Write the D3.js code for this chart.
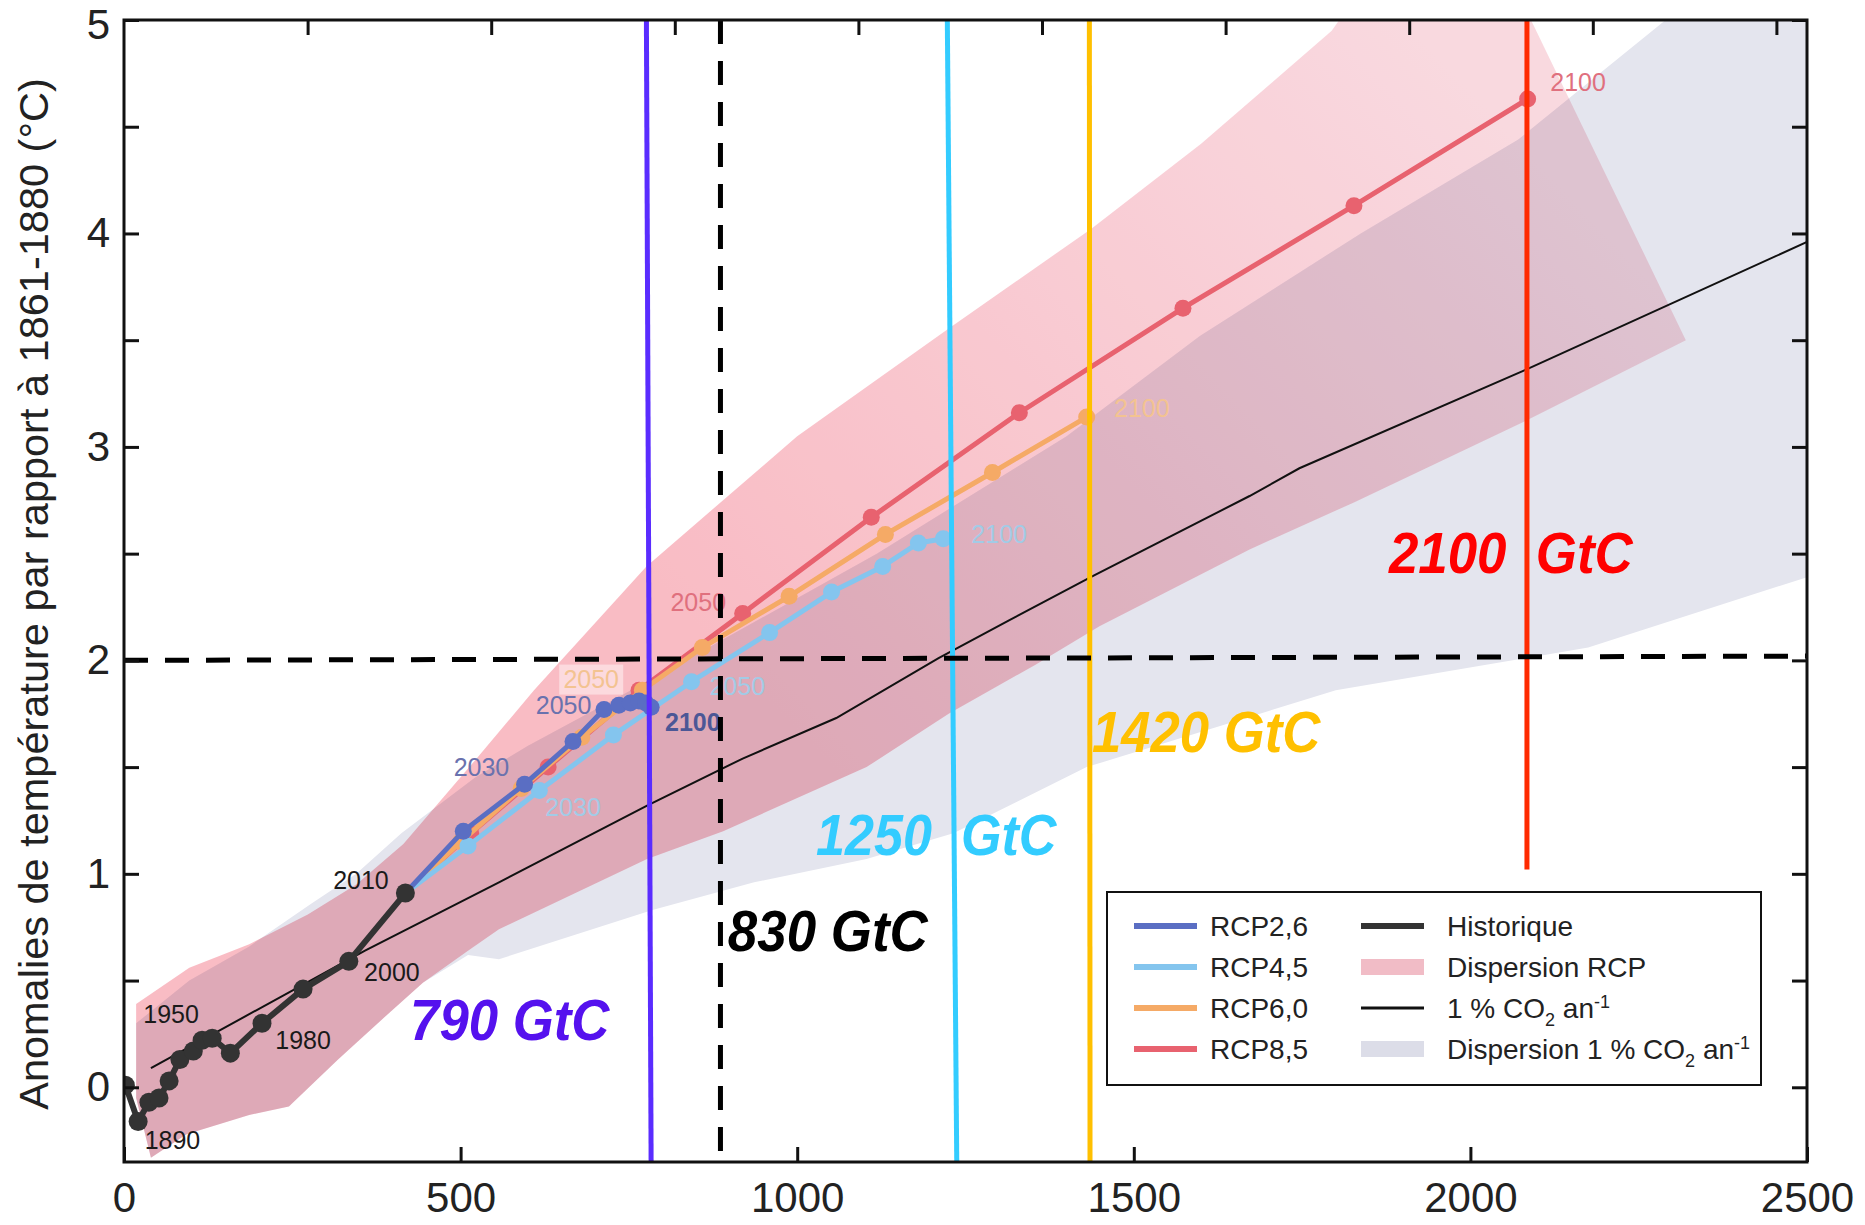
<!DOCTYPE html>
<html>
<head>
<meta charset="utf-8">
<script src="https://cdnjs.cloudflare.com/ajax/libs/d3/7.8.5/d3.min.js"></script>
<style>
  body { margin: 0; background: #fff; }
  svg text { font-family: "Liberation Sans", Arial, sans-serif; }
</style>
</head>
<body>
<div id="chart"></div>
<script>
// ---- values (x: cumulative GtC, y: °C) ----
const yTicks = [0, 0.5, 1, 1.5, 2, 2.5, 3, 3.5, 4, 4.5, 5];
const xTicks = [0, 500, 1000, 1500, 2000, 2500];
const topTicksGtCO2 = [1000, 2000, 3000, 4000, 5000, 6000, 7000, 8000, 9000];
const gtcPerGtco2 = 12 / 44;

const historique = [[2, 0.01], [21, -0.16], [37, -0.07], [52, -0.05], [67, 0.03], [83, 0.13], [103, 0.17],
    [116, 0.22], [131, 0.23], [158, 0.16], [205, 0.30], [266, 0.46], [334, 0.59], [418, 0.91]];
const rcp26 = [[418, 0.91], [504, 1.20], [595, 1.42], [667, 1.62], [713, 1.77], [735, 1.79], [752, 1.80],
    [765, 1.81], [775, 1.80], [783, 1.78]];
const rcp45 = [[418, 0.91], [511, 1.13], [617, 1.39], [727, 1.65], [843, 1.90], [959, 2.13], [1051, 2.32],
    [1127, 2.44], [1180, 2.55], [1217, 2.57]];
const rcp60 = [[418, 0.91], [500, 1.15], [590, 1.40], [680, 1.64], [770, 1.86], [859, 2.06], [988, 2.30],
    [1131, 2.59], [1290, 2.88], [1430, 3.14]];
const rcp85 = [[418, 0.91], [515, 1.19], [630, 1.50], [765, 1.86], [919, 2.22], [1110, 2.67], [1330, 3.16],
    [1573, 3.65], [1827, 4.13], [2085, 4.63]];
const onePct = [[40, 0.09], [358, 0.64], [557, 0.96], [777, 1.32], [919, 1.54], [1058, 1.73], [1210, 2.01],
    [1316, 2.19], [1436, 2.39], [1672, 2.77], [1746, 2.90], [2081, 3.36], [2500, 3.96]];

// dispersion bands : upper edge and lower edge, both left -> right
const rcpUpper = [[18, 0.39], [97, 0.56], [186, 0.67], [273, 0.81], [345, 0.95], [415, 1.14], [521, 1.53],
    [609, 1.86], [776, 2.44], [1000, 3.05], [1223, 3.55], [1436, 4.02], [1600, 4.42], [1794, 4.95],
    [1850, 5.2], [2060, 5.2], [2090, 5.0]];
const rcpLower = [[18, -0.05], [40, -0.33], [93, -0.22], [186, -0.13], [245, -0.09], [318, 0.13], [391, 0.34],
    [444, 0.49], [511, 0.64], [557, 0.74], [777, 1.07], [890, 1.20], [1103, 1.50], [1225, 1.75], [1354, 1.98],
    [1449, 2.16], [1672, 2.52], [1827, 2.74], [2081, 3.12], [2320, 3.50]];
const pctUpper = [[18, 0.30], [97, 0.50], [186, 0.66], [278, 0.86], [345, 1.00], [412, 1.19], [521, 1.45],
    [600, 1.60], [806, 1.95], [1118, 2.50], [1400, 3.05], [1598, 3.52], [1837, 4.00], [2071, 4.44],
    [2290, 5.0], [2340, 5.15], [2500, 5.15]];
const pctLower = [[18, -0.05], [40, -0.33], [93, -0.22], [186, -0.13], [245, -0.09], [318, 0.13], [391, 0.34],
    [444, 0.49], [511, 0.62], [557, 0.60], [785, 0.83], [936, 0.96], [1103, 1.07], [1232, 1.19], [1430, 1.50],
    [1800, 1.86], [2175, 2.06], [2500, 2.39]];

// budget lines (GtC at top and bottom of each line, slight tilt of the scan)
const budgetLabels = ["790 GtC", "830 GtC", "1250  GtC", "1420 GtC", "2100  GtC"];
const budgetTopGtC = [776, 886, 1223, 1434, 2084];
const budgetBottomGtC = [783, 886, 1237, 1435, 2084];
const budgetBottomTemp = [-0.35, -0.35, -0.35, -0.35, 1.02];
const thresholdTemp = [2.0, 2.02];   // left end, right end

const yearLabels = [
    {text: "1890", s: "hist", gt: 72, t: -0.25},
    {text: "1950", s: "hist", gt: 70, t: 0.34},
    {text: "1980", s: "hist", gt: 266, t: 0.22},
    {text: "2000", s: "hist", gt: 398, t: 0.54},
    {text: "2010", s: "hist", gt: 352, t: 0.97},
    {text: "2030", s: "rcp26", gt: 531, t: 1.50},
    {text: "2050", s: "rcp26", gt: 653, t: 1.79},
    {text: "2100", s: "rcp26end", gt: 845, t: 1.71},
    {text: "2050", s: "rcp60", gt: 694, t: 1.91, box: true},
    {text: "2030", s: "rcp45", gt: 667, t: 1.31},
    {text: "2050", s: "rcp45", gt: 911, t: 1.88},
    {text: "2100", s: "rcp45", gt: 1300, t: 2.59},
    {text: "2050", s: "rcp85", gt: 853, t: 2.27},
    {text: "2100", s: "rcp60", gt: 1512, t: 3.18},
    {text: "2100", s: "rcp85", gt: 2160, t: 4.71}
];

const legendItems = [
    {key: "rcp26", label: "RCP2,6"}, {key: "rcp45", label: "RCP4,5"},
    {key: "rcp60", label: "RCP6,0"}, {key: "rcp85", label: "RCP8,5"},
    {key: "hist", label: "Historique"}, {key: "bandRcp", label: "Dispersion RCP"},
    {key: "onePct", label: "1 % CO|2| an|-1"}, {key: "bandPct", label: "Dispersion 1 % CO|2| an|-1"}
];

// ---- styles ----
const colors = {
    rcp26: "#5a6ec3", rcp45: "#84c5ee", rcp60: "#f5aa66", rcp85: "#e8626f", hist: "#333333",
    onePct: "#111111", bandPct: "#e4e5ee"
};
const labelColors = {hist: "#1a1a1a", rcp26: "#6a72ae", rcp26end: "#4c5796", rcp45: "#a2cbe6",
    rcp60: "#f3c391", rcp85: "#e0707e"};
const budgetColors = ["#5a2cff", "#000000", "#33ccff", "#ffc000", "#ff2a00"];
const budgetTextColors = ["#5511ee", "#000000", "#33ccff", "#ffc000", "#ff0000"];
// label anchors (left end, baseline) in data units, and text widths in GtC
const budgetTextGt = [425, 897, 1028, 1438, 1879];
const budgetTextTemp = [0.22, 0.64, 1.09, 1.57, 2.41];
const budgetTextWidth = [296, 297, 357, 339, 362];

var margin = {top: 20, left: 124, right: 58, bottom: 63},
    width = 1865 - margin.left - margin.right,
    height = 1225 - margin.top - margin.bottom;

var svg = d3.select("#chart")
    .append("svg")
    .attr("width", width + margin.left + margin.right)
    .attr("height", height + margin.top + margin.bottom)
    .append("g")
    .attr("transform", "translate(" + margin.left + "," + margin.top + ")");

var x = d3.scaleLinear().domain([0, 2500]).range([0, width]);
var y = d3.scaleLinear().domain([-0.35, 5]).range([height, 0]);

var line = d3.line().x(d => x(d[0])).y(d => y(d[1]));

var defs = svg.append("defs");
defs.append("clipPath").attr("id", "plot-clip")
    .append("rect").attr("width", width).attr("height", height);

// pink plume gets lighter towards its upper end
var grad = defs.append("linearGradient")
    .attr("id", "rcp-grad")
    .attr("gradientUnits", "userSpaceOnUse")
    .attr("x1", x(900)).attr("y1", y(2))
    .attr("x2", x(1900)).attr("y2", y(5));
grad.append("stop").attr("offset", "0%").attr("stop-color", "rgb(248,176,186)");
grad.append("stop").attr("offset", "100%").attr("stop-color", "rgb(248,210,218)");

var plot = svg.append("g").attr("clip-path", "url(#plot-clip)");

// bands
plot.append("path")
    .attr("d", line(pctUpper.concat(pctLower.slice().reverse())) + "Z")
    .attr("fill", colors.bandPct);
plot.append("path")
    .attr("d", line(rcpUpper.concat(rcpLower.slice().reverse())) + "Z")
    .attr("fill", "url(#rcp-grad)")
    .attr("opacity", 0.85)
    .style("mix-blend-mode", "multiply");

// 1 % CO2 per year run
plot.append("path")
    .attr("d", line(onePct))
    .attr("fill", "none")
    .attr("stroke", colors.onePct)
    .attr("stroke-width", 2);

// scenarios, RCP2.6 on top
var scenarios = [["rcp85", rcp85], ["rcp60", rcp60], ["rcp45", rcp45], ["rcp26", rcp26]];
scenarios.forEach(([key, pts]) => {
    var g = plot.append("g").attr("class", key);
    g.append("path")
        .attr("d", line(pts))
        .attr("fill", "none")
        .attr("stroke", colors[key])
        .attr("stroke-width", 5)
        .attr("stroke-linejoin", "round");
    g.selectAll("circle")
        .data(pts.slice(1))
        .enter().append("circle")
        .attr("cx", d => x(d[0]))
        .attr("cy", d => y(d[1]))
        .attr("r", 8.5)
        .attr("fill", colors[key]);
});

// historical record
var hist = plot.append("g").attr("class", "hist");
hist.append("path")
    .attr("d", line(historique))
    .attr("fill", "none")
    .attr("stroke", colors.hist)
    .attr("stroke-width", 6)
    .attr("stroke-linejoin", "round");
hist.selectAll("circle")
    .data(historique)
    .enter().append("circle")
    .attr("cx", d => x(d[0]))
    .attr("cy", d => y(d[1]))
    .attr("r", 9.5)
    .attr("fill", colors.hist);

// year labels along the curves
var yl = svg.append("g").attr("class", "year-labels");
yearLabels.forEach(d => {
    if (d.box) {
        yl.append("rect")
            .attr("x", x(d.gt) - 32).attr("y", y(d.t) - 15)
            .attr("width", 64).attr("height", 30)
            .attr("fill", "#fff").attr("opacity", 0.45);
    }
    yl.append("text")
        .attr("x", x(d.gt))
        .attr("y", y(d.t))
        .attr("dy", "0.35em")
        .attr("text-anchor", "middle")
        .attr("font-size", 25)
        .attr("font-weight", d.s === "rcp26end" ? "bold" : null)
        .attr("fill", labelColors[d.s])
        .text(d.text);
});

// carbon budget lines
budgetLabels.forEach((lab, i) => {
    svg.append("line")
        .attr("x1", x(budgetTopGtC[i])).attr("y1", y(5))
        .attr("x2", x(budgetBottomGtC[i])).attr("y2", y(budgetBottomTemp[i]))
        .attr("stroke", budgetColors[i])
        .attr("stroke-width", 5)
        .attr("stroke-dasharray", i === 1 ? "24,17" : null);
});

// 2 °C threshold
svg.append("line")
    .attr("x1", x(0)).attr("y1", y(thresholdTemp[0]))
    .attr("x2", x(2500)).attr("y2", y(thresholdTemp[1]))
    .attr("stroke", "#000")
    .attr("stroke-width", 5)
    .attr("stroke-dasharray", "24,17");

budgetLabels.forEach((lab, i) => {
    svg.append("text")
        .attr("x", x(budgetTextGt[i]))
        .attr("y", y(budgetTextTemp[i]))
        .attr("font-size", 58)
        .attr("font-weight", "bold")
        .attr("font-style", "italic")
        .attr("fill", budgetTextColors[i])
        .attr("textLength", x(budgetTextWidth[i]) - x(0))
        .attr("lengthAdjust", "spacingAndGlyphs")
        .style("white-space", "pre")
        .text(lab);
});

// legend
var lg = svg.append("g")
    .attr("transform", "translate(" + (1107 - margin.left) + "," + (892 - margin.top) + ")");
lg.append("rect")
    .attr("width", 654).attr("height", 193)
    .attr("fill", "#fff")
    .attr("stroke", "#111")
    .attr("stroke-width", 2);

function richText(sel, label) {
    // "a|2|b|-1" -> a, subscript 2, b, superscript -1
    var parts = label.split("|");
    parts.forEach((p, k) => {
        var t = sel.append("tspan").text(p);
        if (k === 1) t.attr("font-size", 18).attr("dy", 8);
        if (k === 2) t.attr("dy", -8);
        if (k === 3) t.attr("font-size", 18).attr("dy", -10);
    });
}

legendItems.forEach((d, i) => {
    var col = Math.floor(i / 4), row = i % 4;
    var sx = col === 0 ? 27 : 254, tx = col === 0 ? 103 : 340;
    var cy = 34 + row * 41;
    if (d.key === "bandRcp" || d.key === "bandPct") {
        lg.append("rect")
            .attr("x", sx).attr("y", cy - 8)
            .attr("width", 63).attr("height", 16)
            .attr("fill", d.key === "bandRcp" ? "#f1bcc6" : "#dcdde8");
    } else {
        lg.append("line")
            .attr("x1", sx).attr("x2", sx + 63)
            .attr("y1", cy).attr("y2", cy)
            .attr("stroke", colors[d.key])
            .attr("stroke-width", d.key === "onePct" ? 3 : 6);
    }
    var t = lg.append("text")
        .attr("x", tx).attr("y", cy)
        .attr("dy", "0.35em")
        .attr("font-size", 28)
        .attr("fill", "#222");
    richText(t, d.label);
});

// axes (ticks point inwards)
function styleAxis(g) {
    g.select(".domain").remove();
    g.selectAll(".tick line").attr("stroke", "#111").attr("stroke-width", 3);
    g.selectAll(".tick text")
        .attr("font-size", 42)
        .attr("fill", "#222")
        .style("font-family", "'Liberation Sans', Arial, sans-serif");
}

svg.append("g")
    .call(d3.axisLeft(y).tickValues(yTicks).tickSizeInner(-15).tickSizeOuter(0).tickPadding(14)
        .tickFormat(d => Number.isInteger(d) ? d : ""))
    .call(styleAxis)
    .call(g => g.selectAll(".tick text").filter(d => d === 5).attr("dy", "0.45em"));

svg.append("g")
    .attr("transform", "translate(" + width + ",0)")
    .call(d3.axisRight(y).tickValues(yTicks).tickSizeInner(-15).tickSizeOuter(0).tickFormat(""))
    .call(styleAxis);

svg.append("g")
    .attr("transform", "translate(0," + height + ")")
    .call(d3.axisBottom(x).tickValues(xTicks).tickSizeInner(-15).tickSizeOuter(0).tickPadding(20)
        .tickFormat(d3.format("d")))
    .call(styleAxis);

svg.append("g")
    .call(d3.axisTop(x).tickValues(topTicksGtCO2.map(v => v * gtcPerGtco2))
        .tickSizeInner(-15).tickSizeOuter(0).tickFormat(""))
    .call(styleAxis);

svg.append("rect")
    .attr("width", width).attr("height", height)
    .attr("fill", "none")
    .attr("stroke", "#111")
    .attr("stroke-width", 3);

// y axis title
svg.append("text")
    .attr("transform", "translate(" + (33 - margin.left) + "," + (594 - margin.top) + ") rotate(-90)")
    .attr("dy", "0.35em")
    .attr("text-anchor", "middle")
    .attr("font-size", 41.5)
    .attr("fill", "#222")
    .text("Anomalies de température par rapport à 1861-1880 (°C)");
</script>
</body>
</html>
